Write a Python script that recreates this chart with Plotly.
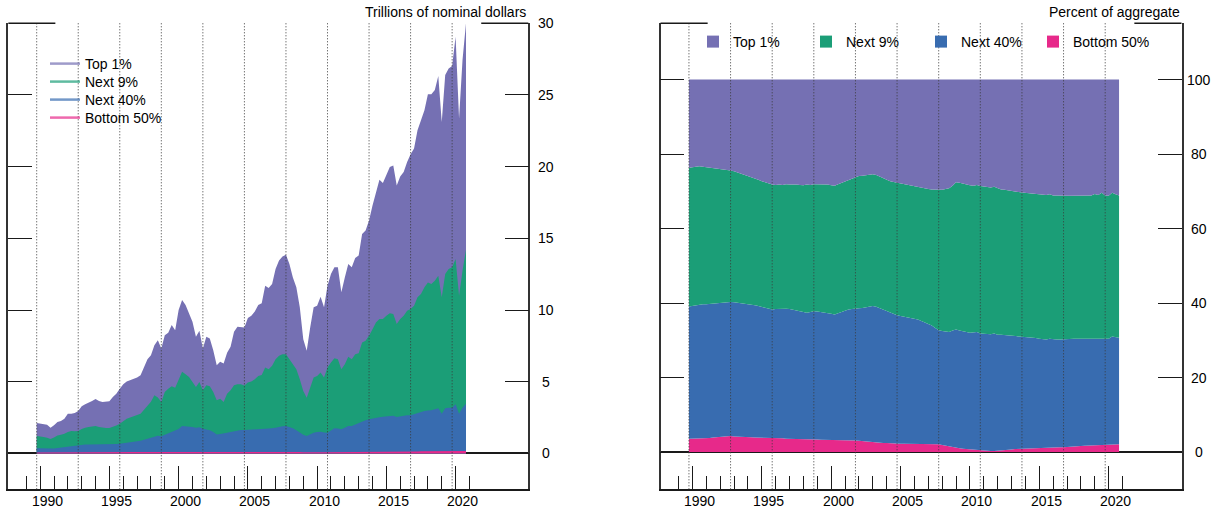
import numpy as np
import pandas as pd
import plotly.graph_objects as go

# =========================
# DATA
# =========================
quarters = pd.period_range("1989Q3", "2020Q3", freq="Q")
xq = [p.year + p.quarter / 4 for p in quarters]

groups = ["Top 1%", "Next 9%", "Next 40%", "Bottom 50%"]
colors = ["#7570b3", "#1b9e77", "#386cb0", "#e7298a"]

# left panel, trillions of nominal dollars
top1_level = [
    2.12, 2.07, 2.07, 2.00, 1.80, 1.96, 2.20, 2.26, 2.42, 2.77,
    2.77, 2.82, 2.96, 3.29, 3.43, 3.52, 3.66, 3.80, 3.66, 3.59,
    3.59, 3.64, 3.94, 4.17, 4.52, 4.83, 5.01, 5.10, 5.15, 5.29,
    5.45, 5.99, 6.57, 6.85, 7.55, 7.90, 7.32, 8.25, 8.41, 8.95,
    8.60, 10.00, 10.70, 10.35, 9.77, 9.18, 8.14, 8.55, 7.32, 8.14,
    8.02, 7.20, 6.15, 6.39, 6.27, 7.02, 7.44, 8.48, 8.83, 8.83,
    8.78, 9.45, 9.60, 9.90, 10.35, 10.47, 11.70, 11.54, 11.82, 12.87,
    13.45, 13.73, 13.85, 13.22, 12.28, 11.59, 10.19, 7.97, 7.16, 8.79,
    10.19, 10.30, 10.93, 10.19, 11.70, 12.52, 12.98, 12.98, 11.24, 12.28,
    13.22, 12.98, 13.64, 13.80, 15.31, 15.55, 16.25, 17.30, 18.23, 19.09,
    18.86, 19.39, 19.98, 20.09, 18.69, 19.32, 19.63, 20.33, 20.86, 21.26,
    22.54, 23.24, 23.94, 25.06, 25.06, 25.34, 26.32, 23.12, 26.39, 26.85,
    27.02, 29.07, 23.36, 27.44, 30.00,
]
next9_level = [
    1.21, 1.20, 1.14, 1.10, 1.00, 1.12, 1.26, 1.30, 1.37, 1.50,
    1.56, 1.55, 1.56, 1.70, 1.80, 1.84, 1.89, 1.92, 1.84, 1.80,
    1.77, 1.78, 1.84, 1.95, 2.07, 2.25, 2.42, 2.50, 2.59, 2.66,
    2.77, 3.05, 3.36, 3.60, 4.06, 3.90, 3.59, 4.29, 4.52, 4.69,
    4.59, 5.10, 5.69, 5.52, 5.34, 4.99, 4.64, 4.99, 4.41, 4.76,
    4.69, 4.29, 3.71, 3.82, 3.59, 4.17, 4.41, 4.76, 4.83, 4.83,
    4.74, 4.94, 5.01, 5.17, 5.41, 5.48, 5.99, 5.87, 6.11, 6.57,
    6.81, 6.92, 6.92, 6.57, 6.22, 5.87, 5.17, 4.36, 3.89, 4.59,
    5.29, 5.41, 5.64, 5.29, 5.99, 6.34, 6.64, 6.57, 5.87, 6.22,
    6.74, 6.57, 6.92, 6.99, 7.74, 7.86, 8.21, 8.67, 9.14, 9.37,
    9.37, 9.60, 9.77, 9.72, 9.02, 9.37, 9.60, 9.95, 10.07, 10.30,
    10.89, 11.12, 11.59, 11.93, 11.82, 12.05, 12.40, 10.89, 12.52, 12.87,
    12.98, 13.57, 11.00, 12.75, 14.20,
]
next40_level = [
    0.37, 0.36, 0.35, 0.33, 0.30, 0.34, 0.38, 0.41, 0.44, 0.50,
    0.54, 0.56, 0.58, 0.60, 0.62, 0.63, 0.63, 0.64, 0.62, 0.61,
    0.61, 0.62, 0.64, 0.66, 0.68, 0.71, 0.74, 0.77, 0.79, 0.83,
    0.88, 0.95, 1.03, 1.10, 1.20, 1.24, 1.20, 1.30, 1.38, 1.50,
    1.55, 1.70, 1.91, 1.90, 1.89, 1.84, 1.80, 1.82, 1.72, 1.68,
    1.61, 1.50, 1.33, 1.36, 1.38, 1.44, 1.49, 1.55, 1.61, 1.63,
    1.63, 1.64, 1.66, 1.67, 1.68, 1.70, 1.73, 1.72, 1.75, 1.80,
    1.86, 1.90, 1.91, 1.85, 1.75, 1.62, 1.45, 1.30, 1.21, 1.33,
    1.45, 1.50, 1.52, 1.46, 1.45, 1.60, 1.75, 1.74, 1.68, 1.80,
    1.91, 1.92, 2.03, 2.12, 2.26, 2.32, 2.38, 2.44, 2.49, 2.53,
    2.56, 2.59, 2.61, 2.63, 2.54, 2.60, 2.66, 2.67, 2.66, 2.74,
    2.84, 2.90, 2.96, 3.00, 3.01, 3.08, 3.15, 2.77, 3.15, 3.18,
    3.19, 3.43, 2.77, 3.19, 3.47,
]
bottom50_level = [
    0.06, 0.06, 0.06, 0.06, 0.05, 0.06, 0.06, 0.06, 0.07, 0.07,
    0.07, 0.07, 0.08, 0.08, 0.08, 0.08, 0.08, 0.08, 0.08, 0.08,
    0.08, 0.08, 0.09, 0.09, 0.09, 0.10, 0.10, 0.10, 0.10, 0.10,
    0.11, 0.11, 0.12, 0.12, 0.13, 0.13, 0.12, 0.13, 0.13, 0.14,
    0.14, 0.15, 0.15, 0.15, 0.14, 0.14, 0.13, 0.13, 0.12, 0.12,
    0.12, 0.11, 0.10, 0.10, 0.10, 0.10, 0.10, 0.11, 0.11, 0.11,
    0.11, 0.11, 0.11, 0.11, 0.12, 0.12, 0.12, 0.12, 0.12, 0.12,
    0.12, 0.12, 0.12, 0.12, 0.11, 0.11, 0.10, 0.09, 0.08, 0.09,
    0.09, 0.09, 0.09, 0.09, 0.09, 0.10, 0.10, 0.10, 0.09, 0.10,
    0.10, 0.10, 0.11, 0.11, 0.12, 0.12, 0.12, 0.12, 0.13, 0.13,
    0.13, 0.13, 0.13, 0.13, 0.13, 0.13, 0.13, 0.14, 0.14, 0.14,
    0.14, 0.15, 0.15, 0.15, 0.15, 0.15, 0.16, 0.14, 0.16, 0.16,
    0.16, 0.17, 0.14, 0.16, 0.17,
]

# right panel, percent of aggregate: upper edge of each band
edge_next9 = [
    76.3, 76.5, 76.6, 76.7, 76.6, 76.5, 76.3, 76.2, 76.1, 76.0,
    75.9, 75.7, 75.6, 75.4, 75.1, 74.8, 74.5, 74.1, 73.8, 73.4,
    73.1, 72.7, 72.4, 72.0, 71.8, 71.7, 71.8, 71.7, 71.9, 71.8,
    71.9, 71.8, 71.7, 71.6, 71.8, 71.7, 71.9, 71.9, 72.0, 72.0,
    71.8, 71.6, 71.5, 71.9, 72.3, 72.6, 73.1, 73.5, 73.9, 74.1,
    74.2, 74.3, 74.5, 74.6, 74.4, 74.0, 73.5, 73.0, 72.7, 72.5,
    72.3, 72.0, 71.8, 71.6, 71.4, 71.2, 71.0, 70.9, 70.7, 70.6,
    70.5, 70.4, 70.3, 70.4, 70.6, 70.8, 71.5, 72.4, 72.3, 72.0,
    71.8, 71.6, 71.5, 71.7, 71.4, 71.2, 71.1, 71.0, 71.2, 70.8,
    70.5, 70.4, 70.2, 70.0, 69.9, 69.8, 69.7, 69.6, 69.5, 69.4,
    69.3, 69.1, 69.0, 69.0, 69.2, 68.9, 68.9, 68.8, 68.8, 68.8,
    68.8, 68.8, 68.8, 68.8, 68.8, 68.9, 68.9, 69.3, 69.0, 69.6,
    68.9, 68.8, 69.6, 69.2, 68.9,
]
edge_next40 = [
    39.1, 39.3, 39.5, 39.6, 39.7, 39.7, 39.8, 39.8, 39.9, 40.0,
    40.1, 40.2, 40.3, 40.2, 40.1, 40.0, 39.9, 39.7, 39.6, 39.4,
    39.2, 39.0, 38.8, 38.5, 38.3, 38.4, 38.5, 38.6, 38.5, 38.4,
    38.2, 38.0, 37.8, 37.5, 37.4, 37.6, 37.8, 37.7, 37.6, 37.5,
    37.4, 37.1, 36.9, 37.3, 37.7, 38.0, 38.3, 38.4, 38.6, 38.6,
    38.7, 38.9, 39.1, 39.2, 39.0, 38.6, 38.2, 37.8, 37.4, 37.0,
    36.7, 36.5, 36.3, 36.2, 36.0, 35.8, 35.6, 35.2, 34.8, 34.5,
    34.0, 33.3, 32.7, 32.5, 32.3, 32.2, 32.6, 32.9, 32.6, 32.3,
    32.2, 32.0, 32.1, 32.2, 31.8, 31.7, 31.6, 31.6, 31.8, 31.5,
    31.5, 31.4, 31.4, 31.3, 31.2, 31.2, 31.1, 30.9, 30.8, 30.8,
    30.6, 30.4, 30.3, 30.2, 30.4, 30.2, 30.2, 30.2, 30.3, 30.3,
    30.4, 30.4, 30.4, 30.4, 30.4, 30.4, 30.4, 30.6, 30.4, 30.5,
    30.4, 30.4, 31.0, 30.8, 30.7,
]
bottom50_share = [
    3.6, 3.6, 3.7, 3.7, 3.8, 3.8, 3.8, 3.9, 4.0, 4.1,
    4.2, 4.3, 4.3, 4.2, 4.2, 4.1, 4.0, 4.0, 4.0, 3.9,
    3.9, 3.8, 3.8, 3.8, 3.8, 3.7, 3.7, 3.7, 3.6, 3.6,
    3.6, 3.5, 3.5, 3.5, 3.4, 3.4, 3.4, 3.4, 3.3, 3.3,
    3.3, 3.2, 3.2, 3.2, 3.2, 3.1, 3.1, 3.1, 3.1, 3.0,
    2.9, 2.8, 2.7, 2.6, 2.5, 2.5, 2.4, 2.4, 2.3, 2.3,
    2.2, 2.2, 2.2, 2.2, 2.2, 2.2, 2.1, 2.1, 2.1, 2.1,
    2.1, 2.1, 2.1, 1.9, 1.7, 1.5, 1.3, 1.2, 1.0, 0.9,
    0.8, 0.7, 0.6, 0.5, 0.45, 0.4, 0.35, 0.3, 0.3, 0.35,
    0.4, 0.5, 0.6, 0.7, 0.8, 0.85, 0.9, 0.95, 1.0, 1.05,
    1.1, 1.1, 1.15, 1.2, 1.2, 1.25, 1.3, 1.3, 1.3, 1.4,
    1.5, 1.55, 1.6, 1.65, 1.7, 1.75, 1.8, 1.85, 1.85, 1.9,
    1.9, 1.95, 2.0, 2.05, 2.1,
]

left_ticks = [0, 5, 10, 15, 20, 25, 30]
right_ticks = [0, 20, 40, 60, 80, 100]
label_years = [1990, 1995, 2000, 2005, 2010, 2015, 2020]
all_years = list(range(1989, 2022))

# shares per group from the band edges
edge9 = np.array(edge_next9)
edge40 = np.array(edge_next40)
b50 = np.array(bottom50_share)
shares = [100 - edge9, edge9 - edge40, edge40 - b50, b50]
levels = [top1_level, next9_level, next40_level, bottom50_level]

# dotted guides every 12 quarters from the first observation
grid_x = xq[::12]

# =========================
# FIGURE
# =========================
W, H = 1222, 513
X_RANGE = [1987.7, 2025.25]
Y_DOM = [1 - 489.3 / H, 1 - 23.3 / H]
AX = "#1a1a1a"
FONT = "Liberation Sans, Arial, Helvetica, sans-serif"

fig = go.Figure()

# left: levels, each band filled down to zero
for name, vals, col in zip(groups, levels, colors):
    fig.add_trace(go.Scatter(
        x=xq, y=vals, name=name, mode="lines", line=dict(width=0, color=col),
        fill="tozeroy", fillcolor=col, showlegend=False, xaxis="x", yaxis="y",
    ))

# right: stacked shares
for name, vals, col in reversed(list(zip(groups, shares, colors))):
    fig.add_trace(go.Scatter(
        x=xq, y=vals, name=name, mode="lines", line=dict(width=0, color=col),
        stackgroup="pct", fillcolor=col, showlegend=False, xaxis="x2", yaxis="y2",
    ))

# legend keys: one small legend per entry so they sit where the original has them
# left panel: column of line keys; right panel: row of squares
left_legends = ["legend", "legend3", "legend4", "legend5"]
left_rows_px = [64, 82, 100, 118]
right_legends = ["legend2", "legend6", "legend7", "legend8"]
right_cols_px = [693, 806, 921, 1033]

for name, col, lg in zip(groups, colors, left_legends):
    fig.add_trace(go.Scatter(
        x=[None], y=[None], mode="lines", line=dict(color=col, width=2.5),
        opacity=0.7, name=name, legend=lg, xaxis="x", yaxis="y",
    ))
for name, col, lg in zip(groups, colors, right_legends):
    fig.add_trace(go.Scatter(
        x=[None], y=[None], mode="markers", marker=dict(symbol="square", size=12, color=col),
        name=name, legend=lg, xaxis="x2", yaxis="y2",
    ))


def x_axis(domain, anchor):
    return dict(
        domain=domain, anchor=anchor, range=X_RANGE, showgrid=False, zeroline=False,
        showline=True, linecolor=AX, linewidth=1.5,
        ticks="inside", tickvals=label_years, ticklen=24, tickwidth=1.2, tickcolor=AX,
        showticklabels=False, layer="above traces",
        minor=dict(tickvals=all_years, ticks="inside", ticklen=14, tickwidth=1.2, tickcolor=AX),
    )


def y_axis(domain, anchor, rng, tickvals):
    return dict(
        domain=domain, anchor=anchor, range=rng, side="right", showgrid=False,
        zeroline=True, zerolinecolor=AX, zerolinewidth=1.6,
        showline=True, mirror="ticks", linecolor="#333333", linewidth=1.5,
        ticks="inside", tickvals=tickvals, ticklen=24, tickwidth=1.2, tickcolor=AX,
        showticklabels=False, layer="above traces",
    )


legend_style = dict(bgcolor="rgba(0,0,0,0)", font=dict(size=14), traceorder="normal",
                    orientation="v", itemwidth=30)
layout_legends = {}
for lg, row in zip(left_legends, left_rows_px):
    layout_legends[lg] = dict(x=45 / W, y=1 - row / H, xanchor="left", yanchor="middle",
                              **legend_style)
for lg, col_px in zip(right_legends, right_cols_px):
    layout_legends[lg] = dict(x=col_px / W, y=1 - 42 / H, xanchor="left", yanchor="middle",
                              **legend_style)

fig.update_layout(
    width=W, height=H,
    margin=dict(l=0, r=0, t=0, b=0),
    paper_bgcolor="white", plot_bgcolor="white",
    font=dict(family=FONT, size=14, color="black"),
    xaxis=x_axis([8.3 / W, 528.3 / W], "y"),
    yaxis=y_axis(Y_DOM, "x", [-2.5, 30], left_ticks),
    xaxis2=x_axis([660.5 / W, 1181.5 / W], "y2"),
    yaxis2=y_axis(Y_DOM, "x2", [-10.0, 115.1], right_ticks),
    **layout_legends,
)

for xr, yr in (("x", "y"), ("x2", "y2")):
    # dotted vertical guides
    for g in grid_x:
        fig.add_shape(
            type="line", xref=xr, x0=g, x1=g, yref=f"{yr} domain", y0=0, y1=1,
            line=dict(color="#3a3a3a", width=1, dash="1px,2px"), layer="above",
        )
    # short top border pieces at the two corners
    for a, b in ((0, 0.0905), (0.9095, 1)):
        fig.add_shape(
            type="line", xref=f"{xr} domain", x0=a, x1=b, yref=f"{yr} domain", y0=1, y1=1,
            line=dict(color=AX, width=1.5),
        )
    # year labels centred in each year
    for yv in label_years:
        fig.add_annotation(
            x=yv + 0.5, xref=xr, y=0, yref=f"{yr} domain", text=str(yv),
            showarrow=False, yanchor="top", yshift=-2, font=dict(size=14),
        )

for yr, xr, ticks in (("y", "x", left_ticks), ("y2", "x2", right_ticks)):
    for v in ticks:
        fig.add_annotation(
            x=1, xref=f"{xr} domain", y=v, yref=yr, text=str(v),
            showarrow=False, xanchor="center", xshift=17.5, font=dict(size=14),
        )

fig.add_annotation(
    x=1, xref="x domain", y=1, yref="y domain", text="Trillions of nominal dollars",
    showarrow=False, xanchor="right", yanchor="bottom", yshift=1, font=dict(size=14),
)
fig.add_annotation(
    x=1, xref="x2 domain", y=1, yref="y2 domain", text="Percent of aggregate",
    showarrow=False, xanchor="right", yanchor="bottom", yshift=1, font=dict(size=14),
)

fig.write_html(
    "out.html",
    config={"displayModeBar": False},
    post_script="document.body.style.margin = '0px';",
)
